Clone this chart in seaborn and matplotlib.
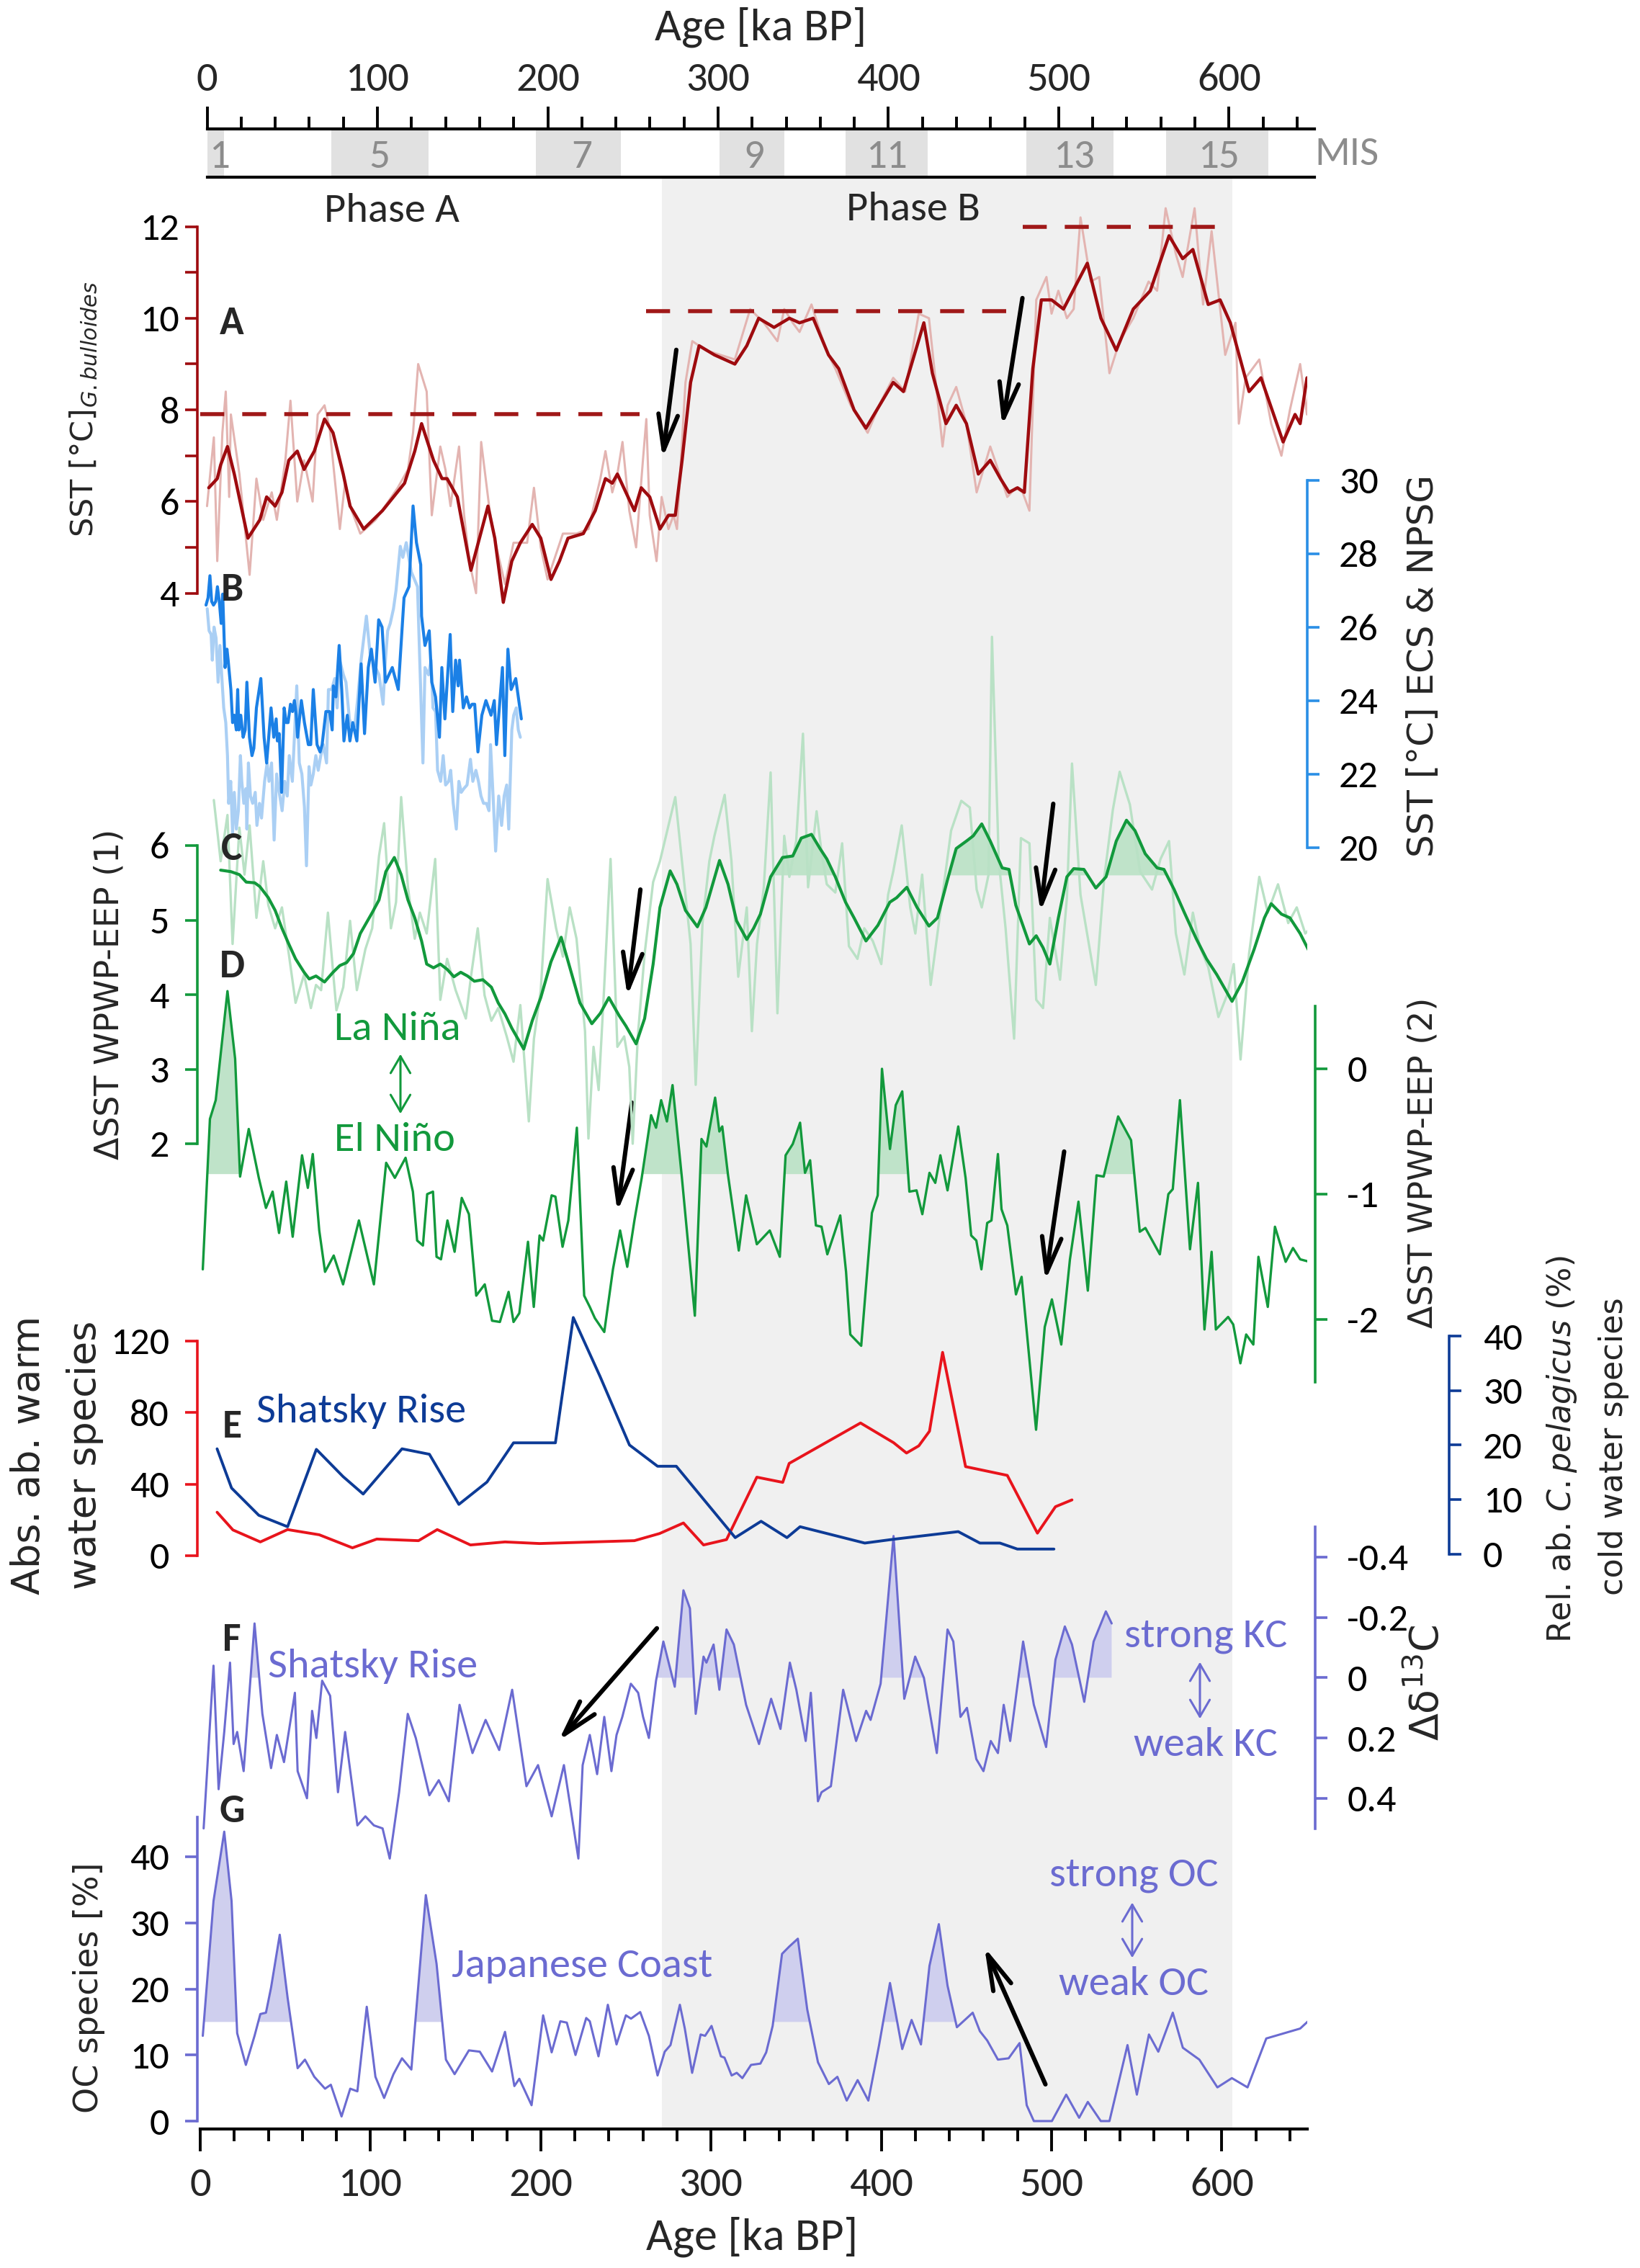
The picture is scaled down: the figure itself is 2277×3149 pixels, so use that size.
import numpy as np
import seaborn as sns
import matplotlib.pyplot as plt
from matplotlib.ticker import MultipleLocator
from matplotlib.patches import FancyArrowPatch

# ---------------- data (age in ka BP, value) ----------------
phase_b = [271, 606]
mis_stages = ['1', '5', '7', '9', '11', '13', '15']
mis_spans = [(0, 10), (73, 130), (193, 243), (301, 339), (375, 423), (481, 532), (563, 623)]
mis_label_age = [7, 101, 220, 321, 399, 509, 594]

# A: SST G. bulloides, smoothed and raw
a_smooth = [(5,6.3),(10,6.5),(12,6.8),(16,7.2),(20,6.6),(28,5.2),(35,5.6),(39,6.1),(44,5.9),(48,6.2),(52,6.9),
            (57,7.1),(61,6.7),(67,7.1),(73,7.8),(78,7.5),(84,6.6),(88,5.9),(96,5.4),(107,5.8),(120,6.4),(126,7.1),
            (130,7.7),(137,6.9),(142,6.5),(145,6.5),(151,6.1),(159,4.5),(164,5.2),(169,5.9),(173,5.2),(178,3.8),
            (183,4.7),(188,5.1),(195,5.5),(200,5.2),(206,4.3),(211,4.7),(216,5.2),(225,5.3),(232,5.8),(238,6.5),
            (242,6.4),(245,6.6),(250,6.2),(255,5.8),(259,6.3),(264,6.1),(270,5.4),(275,5.7),(279,5.7),(283,6.9),
            (288,8.6),(293,9.4),(302,9.2),(314,9.0),(321,9.4),(328,10.0),(337,9.8),(346,10.0),(352,9.9),(360,10.0),
            (369,9.2),(375,8.9),(384,8.0),(391,7.6),(399,8.1),(407,8.6),(413,8.4),(425,9.9),(430,8.8),(438,7.7),
            (444,8.1),(450,7.7),(457,6.6),(464,6.9),(470,6.5),(475,6.2),(480,6.3),(484,6.2),(489,8.9),(494,10.4),
            (500,10.4),(507,10.2),(514,10.7),(521,11.2),(529,10.0),(538,9.3),(548,10.2),(558,10.6),(569,11.8),
            (577,11.3),(583,11.5),(592,10.3),(599,10.4),(605,9.9),(616,8.4),(623,8.7),(636,7.3),(643,7.9),
            (646,7.7),(650,8.7)]
a_raw = [(4,5.9),(8,7.4),(10,4.7),(13,7.5),(15,8.4),(17,6.1),(18,7.9),(23,6.6),(29,4.4),(33,6.5),(37,5.6),
         (42,6.2),(45,5.6),(50,6.9),(53,8.2),(57,6.0),(61,6.9),(66,6.0),(69,7.9),(73,8.1),(76,7.6),(82,5.4),
         (85,6.4),(89,5.8),(94,5.3),(103,5.6),(116,6.3),(122,6.7),(125,7.5),(128,9.0),(133,8.4),(136,5.7),
         (141,7.2),(144,6.7),(147,5.9),(152,7.2),(155,5.7),(158,4.7),(162,4.0),(165,7.3),(170,5.8),(174,5.0),
         (179,4.2),(184,5.1),(188,5.1),(192,5.1),(196,6.3),(200,5.0),(204,4.3),(213,5.3),(221,5.3),(228,5.4),
         (235,6.5),(238,7.1),(242,6.2),(245,6.6),(248,7.3),(252,5.8),(256,5.0),(260,6.9),(262,7.8),(264,5.7),
         (268,4.7),(271,6.1),(275,5.4),(278,5.7),(280,5.4),(285,8.6),(289,9.5),(297,9.3),(314,9.1),(323,10.2),
         (331,9.9),(339,9.5),(343,10.2),(348,9.9),(352,9.7),(359,10.3),(365,9.6),(369,9.2),(373,8.9),(382,8.1),
         (392,7.5),(400,8.2),(407,8.7),(414,8.4),(422,10.1),(428,10.0),(436,7.2),(439,8.1),(444,8.5),(450,7.7),
         (456,6.2),(464,7.2),(474,6.1),(479,6.3),(483,6.2),(487,5.8),(491,10.4),(497,10.9),(500,10.1),(504,10.6),
         (509,10.0),(513,10.2),(517,12.2),(523,10.8),(528,10.9),(534,8.8),(540,9.5),(548,10.0),(557,10.8),
         (562,10.6),(567,12.4),(573,11.4),(577,10.9),(584,12.4),(589,10.3),(594,11.9),(602,9.2),(608,9.9),
         (610,7.7),(614,8.7),(622,9.1),(629,7.7),(635,7.0),(640,8.0),(646,9.0),(650,7.9),(652,9.2)]
a_levels = [(0, 258, 7.9), (262, 475, 10.15), (483, 597, 12.0)]

# B: SST ECS & NPSG
b_dark = [(3.4,26.6),(4.6,26.8),(5.7,27.4),(6.7,26.7),(7.8,26.6),(9.1,26.7),(10.1,27.1),(11.2,26.7),(12.3,26.1),
          (13.2,26.9),(14.6,24.9),(15.7,25.4),(16.4,25.1),(18.0,24.3),(19.0,23.4),(20.0,23.6),(21.2,23.2),(22.0,24.3),
          (22.7,23.2),(23.8,23.6),(25.2,23.0),(26.4,23.2),(27.4,24.5),(28.9,23.0),(30.4,22.5),(31.5,22.7),(33.0,23.8),
          (35.6,24.6),(37.5,23.0),(39.0,22.3),(41.6,23.8),(43.2,23.0),(44.6,23.5),(45.3,22.9),(46.4,23.1),(47.8,21.5),
          (49.3,23.8),(50.5,23.4),(51.6,23.4),(53.0,23.9),(54.2,23.7),(55.3,24.0),(56.4,23.6),(57.2,23.0),(59.4,24.0),
          (61.2,23.4),(63.5,22.8),(64.9,22.8),(66.4,24.3),(68.6,22.8),(70.4,22.6),(71.6,22.8),(73.8,23.7),(76.0,23.7),
          (77.5,23.2),(78.2,24.4),(79.7,24.1),(81.6,25.5),(83.1,24.3),(84.4,22.9),(86.4,23.6),(87.9,22.9),(89.6,23.4),
          (92.0,22.9),(94.5,25.0),(96.5,23.1),(98.7,24.9),(100.5,25.4),(102.7,24.5),(104.8,26.2),(106.8,26.0),
          (108.8,24.5),(112.8,24.9),(116.3,24.3),(119.7,26.8),(122.6,27.1),(125.0,29.3),(127.0,28.3),(129.5,27.7),
          (130.0,26.3),(132.0,25.5),(134.5,25.9),(136.0,24.5),(138.2,24.1),(140.5,23.0),(141.9,24.9),(143.7,23.5),
          (146.8,25.8),(148.3,23.7),(150.0,25.1),(151.5,24.4),(152.3,25.1),(154.5,23.8),(156.4,24.1),(158.2,23.8),
          (159.7,23.9),(161.2,23.9),(163.1,22.6),(165.4,23.6),(167.8,24.0),(170.8,23.6),(172.7,24.0),(174.0,22.8),
          (177.5,24.9),(178.9,22.5),(180.7,25.4),(182.6,24.3),(185.3,24.6),(188.6,23.5)]
b_light = [(4.1,26.5),(5.2,25.9),(6.4,25.8),(7.1,25.1),(8.1,26.0),(9.3,25.7),(10.5,24.5),(11.6,25.5),(12.6,24.7),
           (13.8,23.8),(15.0,23.4),(16.0,22.5),(16.7,21.2),(17.9,21.8),(19.0,20.4),(20.0,21.5),(21.2,20.5),(22.4,21.0),
           (23.6,22.5),(24.4,21.8),(25.6,21.2),(26.8,21.6),(27.4,20.5),(28.3,22.3),(29.5,21.4),(30.8,21.2),(32.3,21.5),
           (33.3,20.6),(34.8,21.2),(36.0,20.8),(37.8,21.8),(39.3,22.3),(40.4,21.8),(41.9,22.3),(43.4,20.2),(44.9,22.0),
           (46.4,21.5),(48.1,21.0),(49.6,21.8),(51.1,21.4),(52.3,22.5),(54.1,21.8),(56.7,24.4),(58.2,22.3),(59.7,22.0),
           (61.2,21.1),(62.4,19.5),(63.9,22.2),(65.0,21.7),(66.4,22.0),(67.9,22.5),(69.3,22.1),(70.8,22.5),(72.3,22.8),
           (74.2,22.3),(75.3,24.3),(77.2,24.3),(79.0,24.6),(80.4,23.8),(81.9,25.1),(84.1,24.7),(85.6,24.5),(87.6,23.5),
           (89.0,23.3),(90.8,23.3),(92.6,24.1),(94.5,25.1),(97.6,26.3),(99.7,25.3),(103.0,24.9),(105.0,24.7),
           (107.4,23.9),(108.6,25.0),(110.1,25.9),(111.6,26.1),(113.5,26.5),(115.0,27.0),(117.5,28.2),(119.0,27.9),
           (121.0,28.3),(124.0,27.5),(127.6,27.1),(130.8,22.3),(132.0,24.9),(134.1,24.7),(135.6,25.1),(136.7,23.8),
           (138.2,23.7),(139.4,22.1),(141.2,21.8),(142.7,22.5),(144.1,21.7),(145.9,21.8),(147.1,22.1),(148.6,21.2),
           (150.4,20.5),(151.9,21.8),(153.3,21.5),(154.8,21.6),(156.7,21.7),(158.7,22.4),(160.1,21.8),(161.9,22.1),
           (163.4,21.8),(164.9,21.4),(166.4,21.2),(168.1,21.2),(169.6,21.0),(170.5,22.8),(172.0,21.4),(173.5,19.9),
           (175.3,21.4),(177.0,20.6),(178.5,21.4),(180.0,21.7),(181.2,20.5),(183.0,23.2),(184.1,23.6),(185.6,23.8),
           (186.8,23.2),(188.0,23.0)]

# C: dSST WPWP-EEP (1), smoothed and raw
c_smooth = [(12,5.67),(18,5.65),(23,5.61),(27,5.51),(32,5.5),(35,5.45),(40,5.3),(44,5.13),(48,4.89),(52,4.68),
            (56,4.48),(61,4.3),(64,4.21),(68,4.25),(73,4.17),(78,4.3),(82,4.39),(86,4.43),(90,4.55),(94,4.82),
            (101,5.1),(105,5.27),(109,5.65),(114,5.84),(118,5.61),(122,5.27),(126,5.03),(130,4.72),(133,4.41),
            (137,4.36),(141,4.41),(145,4.34),(149,4.24),(153,4.3),(157,4.25),(161,4.18),(166,4.2),(171,4.1),
            (175,3.89),(179,3.74),(183,3.55),(190,3.27),(195,3.65),(200,3.96),(206,4.44),(212,4.77),(217,4.37),
            (223,3.89),(230,3.61),(235,3.75),(240,3.96),(246,3.72),(250,3.58),(256,3.34),(261,3.68),(266,4.41),
            (270,5.17),(276,5.66),(280,5.48),(285,5.13),(292,4.91),(297,5.17),(305,5.8),(310,5.48),(315,4.99),
            (321,4.74),(325,4.89),(329,5.08),(335,5.58),(342,5.84),(348,5.86),(353,6.1),(359,6.15),(364,5.96),
            (368,5.82),(373,5.58),(379,5.24),(384,5.03),(391,4.72),(398,4.93),(405,5.24),(409,5.3),(415,5.44),
            (421,5.17),(428,4.92),(433,5.03),(439,5.55),(444,5.96),(450,6.06),(454,6.13),(459,6.29),(464,6.06),
            (471,5.7),(475,5.68),(479,5.2),(487,4.68),(491,4.79),(495,4.63),(499,4.41),(504,5.03),(509,5.58),
            (513,5.69),(519,5.68),(526,5.43),(532,5.58),(538,6.06),(544,6.34),(549,6.2),(555,5.89),(562,5.7),
            (566,5.68),(572,5.41),(578,5.1),(585,4.75),(591,4.48),(597,4.27),(606,3.91),(612,4.17),(619,4.61),
            (625,5.03),(629,5.22),(635,5.08),(640,5.03),(646,4.82),(652,4.55)]
c_raw = [(8,6.61),(12,5.79),(16,6.41),(19,4.68),(23,6.24),(26,5.61),(29,6.27),(33,5.03),(37,5.79),(40,5.2),
         (44,4.89),(48,5.17),(52,4.55),(56,3.89),(61,4.27),(65,3.82),(68,4.13),(71,4.06),(75,5.1),(80,3.79),
         (84,4.1),(88,4.99),(92,4.06),(97,4.61),(101,4.89),(105,5.86),(108,6.3),(112,4.89),(115,5.24),(118,6.65),
         (122,5.44),(126,4.75),(129,5.1),(133,4.82),(138,5.82),(141,3.93),(145,4.48),(150,4.06),(156,3.68),
         (159,4.24),(163,4.89),(167,3.99),(171,3.65),(175,3.82),(180,3.44),(184,3.1),(188,3.86),(193,2.3),
         (196,3.41),(200,4.06),(204,5.55),(209,4.89),(213,4.51),(217,5.17),(221,4.75),(226,3.51),(228,2.07),
         (231,3.3),(234,2.72),(237,3.99),(241,5.82),(245,3.3),(249,3.44),(252,3.03),(254,2.0),(257,3.44),
         (261,4.55),(266,5.51),(270,5.79),(275,6.27),(279,6.65),(284,5.55),(288,4.68),(291,2.79),(295,4.96),
         (299,5.79),(302,6.13),(308,6.68),(312,5.79),(316,4.24),(321,5.17),(324,3.51),(327,4.68),(331,5.44),
         (335,6.98),(339,3.75),(343,6.13),(346,5.58),(350,6.06),(354,7.5),(357,5.44),(362,6.46),(365,5.89),
         (368,5.48),(373,5.37),(377,6.03),(381,4.65),(386,4.48),(390,4.89),(395,4.72),(400,4.41),(404,5.34),
         (407,5.65),(412,6.27),(417,5.17),(420,4.82),(424,5.61),(429,4.13),(435,5.17),(441,6.2),(447,6.6),
         (452,6.51),(456,5.41),(459,5.17),(463,5.61),(465,8.8),(469,5.79),(473,4.89),(478,3.41),(482,6.1),
         (487,6.03),(491,3.93),(495,3.82),(499,5.03),(505,4.2),(509,5.3),(512,7.1),(517,5.34),(526,4.13),
         (531,5.58),(536,6.48),(540,6.99),(546,6.55),(552,5.65),(559,5.41),(564,5.82),(569,6.06),(573,4.82),
         (578,4.27),(583,5.1),(587,4.65),(592,4.37),(598,3.7),(603,3.99),(607,4.41),(611,3.13),(616,4.55),
         (622,5.58),(627,5.1),(633,5.48),(639,4.96),(644,5.17),(649,4.82),(652,4.89)]
c_level = 5.6
c_events = [(335, 374), (439, 480), (504, 573)]

# D: dSST WPWP-EEP (2)
d_dsst = [(1.5,-1.6),(5.7,-0.4),(9.1,-0.25),(16,0.62),(20.5,0.08),(23.4,-0.86),(28.5,-0.48),(34.4,-0.87),
          (38.6,-1.11),(42.5,-0.98),(46.3,-1.31),(50.5,-0.9),(54.3,-1.34),(59.8,-0.69),(63.2,-0.95),(66.1,-0.68),
          (69.9,-1.29),(73.3,-1.62),(78.4,-1.49),(83.9,-1.72),(93.2,-1.21),(102,-1.72),(109.2,-0.75),(114.3,-0.87),
          (120.6,-0.71),(124.9,-0.98),(127.4,-1.37),(130.8,-1.41),(133.3,-1.0),(136.7,-0.98),(138.8,-1.5),
          (141.4,-1.52),(145.2,-1.21),(149.4,-1.46),(153.6,-1.03),(157.8,-1.16),(162.1,-1.81),(167.1,-1.72),
          (171.4,-2.01),(176,-2.02),(181.1,-1.78),(184,-2.02),(187.4,-1.95),(192.5,-1.38),(195.9,-1.9),
          (199.3,-1.33),(201.4,-1.37),(206.4,-1.01),(208.6,-1.02),(212.8,-1.42),(216.2,-1.21),(221.2,-0.47),
          (225.5,-1.81),(228.8,-1.9),(231.8,-1.99),(237.3,-2.1),(242.4,-1.6),(246.6,-1.29),(250.8,-1.58),
          (255,-1.21),(259.3,-0.87),(264.8,-0.37),(267.7,-0.47),(270.7,-0.25),(274.1,-0.42),(277.4,-0.13),
          (282.9,-0.87),(290.5,-1.97),(294.4,-0.56),(297.3,-0.62),(302.4,-0.23),(304.9,-0.5),(306.6,-0.46),
          (310,-0.85),(316.3,-1.45),(320.6,-1.01),(326.9,-1.4),(334.5,-1.29),(340.4,-1.5),(343.8,-0.69),
          (348,-0.6),(352.3,-0.43),(355.2,-0.83),(358.2,-0.73),(361.6,-1.25),(364.9,-1.26),(368.3,-1.48),
          (372.5,-1.31),(375.9,-1.17),(379.3,-1.62),(381.8,-2.12),(388.2,-2.21),(394.5,-1.15),(397.9,-1.01),
          (400.4,0.0),(405.1,-0.64),(408.5,-0.29),(412.3,-0.18),(416.5,-0.98),(420.7,-0.97),(424.1,-1.16),
          (428.3,-0.83),(431.7,-0.91),(434.7,-0.69),(438.9,-0.97),(445.2,-0.46),(449.5,-0.87),(452.8,-1.33),
          (455.8,-1.37),(458.8,-1.6),(462.2,-1.23),(464.7,-1.21),(468.5,-0.68),(470.6,-1.12),(474,-1.25),
          (479.1,-1.8),(482.4,-1.66),(490.9,-2.88),(496,-2.06),(500.2,-1.84),(505.7,-2.2),(510.8,-1.52),
          (515.8,-1.06),(521.3,-1.77),(526.4,-0.85),(530.6,-0.86),(539.1,-0.38),(546.7,-0.57),(551.8,-1.3),
          (555.1,-1.27),(563.6,-1.48),(568.6,-1.0),(571.2,-0.96),(575.4,-0.25),(581.3,-1.44),(586,-0.91),
          (589.8,-2.08),(594,-1.46),(596.5,-2.08),(603.7,-1.98),(606.7,-2.04),(610.9,-2.35),(614.3,-2.12),
          (618.5,-2.2),(621.5,-1.5),(627,-1.9),(631.2,-1.26),(634.6,-1.41),(637.5,-1.54),(641.8,-1.43),
          (646,-1.52),(651.5,-1.54)]
d_level = -0.84
d_events = [(0, 25), (255, 311), (340, 362), (397, 417), (526, 552)]

# E: Shatsky Rise, warm-water abundance (left) and C. pelagicus (right)
e_warm = [(9.9,24.3),(19.2,14.4),(35.3,7.7),(51.3,14.6),(69.9,11.7),(89.4,4.4),(103.7,9.3),(128.2,8.4),
          (139.2,14.6),(158.7,6.0),(179,7.7),(199.3,6.8),(255,8.4),(269.8,12.4),(283.8,18.3),(295.6,6.0),
          (309.1,9.0),(326.9,43.9),(342.1,41.0),(345.9,51.6),(387.8,74.2),(407.2,63.2),(414.8,57.4),(422,61.4),
          (428.3,69.6),(436,113.7),(449.5,49.8),(474,44.9),(491.7,12.6),(502.3,27.4),(512,31.2)]
e_cold = [(9.9,19.3),(18.4,12.1),(34.4,7.1),(51.3,5.0),(68.2,19.2),(83.9,14.2),(95.7,11.0),(118.5,19.3),
          (134.6,18.3),(151.9,9.1),(168.4,13.2),(184,20.4),(208.6,20.4),(219.1,43.4),(234.8,32.6),(252.1,20.0),
          (268.6,16.1),(279.6,16.1),(314.2,3.0),(329.4,6.0),(344.6,3.0),(352.3,5.0),(390.3,2.0),(407.2,2.7),
          (445.2,4.1),(457.9,2.0),(469.7,2.0),(479.9,0.9),(501.4,0.9)]

# F: Shatsky Rise d13C gradient
f_d13c = [(2,0.5),(7.8,-0.04),(10.8,0.37),(14.1,0.18),(17.5,-0.05),(19.6,0.22),(21.7,0.18),(25.5,0.31),
          (31.9,-0.18),(36.5,0.12),(41.6,0.3),(45,0.19),(49.2,0.28),(55.6,0.05),(57.2,0.31),(62.7,0.4),(65.7,0.11),
          (68.2,0.2),(71.6,0.01),(76.3,0.06),(80.9,0.38),(85.1,0.18),(92.3,0.49),(97,0.46),(102,0.49),(107.1,0.5),
          (111.3,0.6),(116.8,0.38),(121.9,0.12),(126.6,0.2),(134.6,0.39),(140.1,0.34),(146,0.41),(152.3,0.09),
          (159.9,0.25),(167.6,0.14),(175.6,0.24),(183.2,0.04),(191.6,0.36),(198.4,0.29),(206.4,0.46),(213.6,0.29),
          (222.1,0.6),(224.6,0.29),(228.8,0.19),(233.1,0.32),(237.3,0.13),(241.5,0.31),(244.5,0.19),(247.9,0.13),
          (252.9,0.02),(257.2,0.05),(260.1,0.13),(263.5,0.2),(267.7,0.01),(272,-0.12),(278.7,0.03),(283.8,-0.29),
          (287.6,-0.23),(291,0.12),(295.6,-0.07),(297.3,-0.05),(301.5,-0.11),(304.9,0.04),(309.1,-0.16),
          (313.4,-0.11),(320.6,0.09),(328.2,0.22),(335.3,0.07),(340.8,0.17),(346.3,-0.05),(350.1,0.04),
          (355.6,0.21),(358.6,0.05),(362.8,0.41),(364.9,0.38),(370.4,0.36),(377.6,0.04),(385.2,0.21),(391.1,0.11),
          (393.7,0.14),(399.6,0.02),(407.2,-0.47),(413.5,0.07),(419.9,-0.07),(425,0.0),(432.6,0.25),(438.9,-0.16),
          (442.3,-0.12),(446.5,0.13),(450.3,0.1),(455.8,0.27),(460,0.31),(464.3,0.21),(468.5,0.25),(471.9,0.09),
          (475.7,0.21),(483.3,-0.12),(489.6,0.09),(496.8,0.23),(502.3,-0.06),(507.8,-0.17),(512,-0.11),
          (519.2,0.08),(524.7,-0.12),(531.9,-0.22),(535.3,-0.18)]
f_level = 0.0
f_events = [(28, 37), (266, 318), (341, 351), (398, 427), (478, 536)]

# G: OC species, Japanese coast
g_oc = [(1.5,12.9),(7.8,33.3),(14.1,43.8),(18.4,33.3),(21.7,13.3),(26.8,8.5),(31.9,12.9),(35.3,16.2),(38.6,16.4),
        (41.6,20.2),(46.7,28.2),(51.3,18.7),(57.2,8.0),(61.5,9.3),(67,6.7),(73.3,4.9),(76.7,5.5),(83,0.7),
        (88.1,4.9),(92.3,4.5),(97.8,17.3),(102.9,6.7),(108,3.5),(113.5,7.1),(118.5,9.5),(124,7.8),(132.5,34.2),
        (138.8,23.8),(144.3,9.3),(149.4,7.1),(157.8,10.7),(164.2,10.5),(171.4,7.5),(179,13.5),(184.5,5.3),
        (187.4,6.4),(194.6,2.4),(201.4,16.0),(206.4,10.4),(211.5,15.1),(215.3,14.9),(220.4,10.0),(226.7,15.6),
        (228.8,15.1),(233.9,9.8),(239.4,17.6),(244.5,11.6),(250,16.0),(253,15.5),(258.4,16.5),(263.5,12.9),
        (268.6,6.9),(272.8,10.5),(276.2,11.5),(281.7,17.6),(284.6,14.0),(288.9,7.3),(293.9,13.1),(296.5,12.9),
        (300.3,14.4),(305.8,9.8),(307.9,9.6),(312.1,6.9),(315.1,7.3),(318.4,6.5),(323.5,8.5),(329,8.7),
        (332.4,10.4),(336.2,14.4),(341.7,25.3),(345.9,26.4),(351,27.6),(356.5,16.9),(362.8,8.9),(369.2,5.6),
        (374.2,6.7),(379.7,3.1),(386.1,6.2),(392.4,3.1),(398.7,11.5),(405.1,20.9),(412.3,10.9),(417.8,15.3),
        (423.3,11.6),(428.3,23.5),(433.8,29.8),(438.9,20.5),(444.4,14.2),(453.7,16.4),(457.9,13.6),(462.2,12.2),
        (468.5,9.3),(474.8,9.5),(481.2,11.8),(485.4,2.4),(489.6,0.0),(500.2,0.0),(508.6,4.0),(516.2,0.5),
        (521.3,2.9),(528.9,0.0),(534,0.0),(544.6,11.5),(550.1,4.0),(557.2,13.1),(562.7,10.5),(571.2,16.4),
        (577.1,11.1),(586.8,9.3),(597.4,5.1),(605.9,6.5),(615.1,5.1),(626.1,12.5),(646,14.0),(652.3,15.5)]
g_level = 15
g_events = [(0, 23), (33, 53), (125, 145), (334, 358), (400, 411), (426, 445)]

# black arrows (tail, head) in each panel's units
arrows_a = [((279.6, 9.31), (271.6, 6.95)), ((482.9, 10.44), (471.1, 7.65))]
arrows_c = [((258.5, 5.41), (250.9, 3.98)), ((501.0, 6.56), (493.5, 5.11))]
arrows_d = [((253.5, -0.27), (245.0, -1.14)), ((507.4, -0.66), (496.4, -1.69))]
arrows_f = [((268.2, -0.164), (210.5, 0.209))]
arrows_g = [((496.4, 5.56), (460.6, 26.3))]

# ---------------- colours ----------------
DARKRED, PINK = '#9e0b0f', '#e3b4b1'
BLUE, LIGHTBLUE = '#1b80e6', '#aacff4'
GREEN, LIGHTGREEN, GREENFILL = '#12993c', '#b9e1c5', '#bfe3c9'
RED, NAVY = '#e8141c', '#0d3b96'
PERI, PERIFILL = '#6b6bd1', '#cfcfee'

sns.set_style('ticks')
plt.rcParams['font.family'] = ['Carlito', 'Lato', 'DejaVu Sans']
plt.rcParams['mathtext.fontset'] = 'dejavusans'

W, H = 1138.5, 1574.5          # layout grid (half-size pixels)
def fx(px): return px / W
def fy(py): return 1 - py / H

X0, X1 = 139, 907.3            # age 0 and 650 ka
Y_TOP, Y_BOT = 123, 1478
RECT = [fx(X0), fy(Y_BOT), fx(X1) - fx(X0), fy(Y_TOP) - fy(Y_BOT)]

fig = plt.figure(figsize=(11.385, 15.745), dpi=200)


def split(pairs):
    x, y = zip(*pairs)
    return np.array(x, float), np.array(y, float)


def new_axes(name):
    ax = fig.add_axes(RECT, label=name)
    ax.patch.set_visible(False)
    for sp in ax.spines.values():
        sp.set_visible(False)
    ax.tick_params(left=False, labelleft=False, right=False, labelright=False,
                   bottom=False, labelbottom=False, top=False, labeltop=False)
    return ax


def set_band(ax, p_hi, v_hi, p_lo, v_lo):
    s = (v_lo - v_hi) / (p_lo - p_hi)
    ax.set_xlim(0, 650)
    ax.set_ylim(v_hi + (Y_BOT - p_hi) * s, v_hi + (Y_TOP - p_hi) * s)


def yaxis(ax, side, color, bounds, ticks, labels=None, minor=None, offset=1.5, pad=8):
    sp = ax.spines[side]
    sp.set_visible(True)
    sp.set_color(color)
    sp.set_linewidth(1.3)
    sp.set_bounds(*bounds)
    sp.set_position(('outward', offset))
    ax.set_yticks(ticks)
    ax.set_yticklabels(labels if labels is not None else [f'{t:g}' for t in ticks])
    if minor is not None:
        ax.set_yticks(minor, minor=True)
    ax.tick_params(axis='y', which='both', colors=color, labelcolor='black', length=6, width=1.3,
                   labelsize=19.5, pad=pad, direction='out',
                   **{side: True, 'label' + side: True})


def line(ax, pairs, color, lw):
    x, y = split(pairs)
    sns.lineplot(x=x, y=y, ax=ax, color=color, linewidth=lw, estimator=None, sort=False, legend=False)


def fill_events(ax, pairs, level, events, color, above=True):
    x, y = split(pairs)
    inside = np.zeros(len(x), bool)
    for lo, hi in events:
        inside |= (x >= lo) & (x <= hi)
    cond = (y > level) if above else (y < level)
    ax.fill_between(x, y, level, where=inside & cond, interpolate=True, color=color, lw=0, zorder=1)


def arrows(ax, items):
    for tail, head in items:
        ax.annotate('', xy=head, xytext=tail, annotation_clip=False,
                    arrowprops=dict(arrowstyle='->,head_length=0.8,head_width=0.22', lw=2.2,
                                    color='black', shrinkA=0, shrinkB=0, mutation_scale=22))


# ---------- background: phase B shading + bottom age axis ----------
ax_bg = fig.add_axes(RECT, label='bg')
ax_bg.set_xlim(0, 650)
ax_bg.set_ylim(0, 1)
ax_bg.axvspan(phase_b[0], phase_b[1], color='#f0f0f0', lw=0)
for s in ['left', 'right', 'top']:
    ax_bg.spines[s].set_visible(False)
ax_bg.spines['bottom'].set_linewidth(1.5)
ax_bg.spines['bottom'].set_color('black')
ax_bg.set_yticks([])
ax_bg.xaxis.set_major_locator(MultipleLocator(100))
ax_bg.xaxis.set_minor_locator(MultipleLocator(20))
ax_bg.tick_params(axis='x', which='major', length=11, width=1.4, labelsize=21, pad=8, direction='out',
                  color='black')
ax_bg.tick_params(axis='x', which='minor', length=6, width=1.4, direction='out', color='black')
ax_bg.set_xticks(range(0, 601, 100))
fig.text(fx(522), fy(1553), 'Age [ka BP]', ha='center', va='center', size=23)

# ---------- G ----------
ax_g = new_axes('G')
fill_events(ax_g, g_oc, g_level, g_events, PERIFILL)
line(ax_g, g_oc, PERI, 1.1)
arrows(ax_g, arrows_g)
set_band(ax_g, 1289, 40, 1472.5, 0)
yaxis(ax_g, 'left', PERI, (0, 46), [0, 10, 20, 30, 40])

# ---------- F ----------
ax_f = new_axes('F')
fill_events(ax_f, f_d13c, f_level, f_events, PERIFILL, above=False)
line(ax_f, f_d13c, PERI, 1.1)
arrows(ax_f, arrows_f)
set_band(ax_f, 1081, -0.4, 1248.4, 0.4)
yaxis(ax_f, 'right', PERI, (-0.5, 0.5), [-0.4, -0.2, 0, 0.2, 0.4],
      labels=['-0.4', '-0.2', '0', '0.2', '0.4'], offset=4, pad=10)

# ---------- E ----------
ax_e = new_axes('E')
line(ax_e, e_warm, RED, 1.4)
set_band(ax_e, 931, 120, 1080, 0)
yaxis(ax_e, 'left', RED, (0, 120), [0, 40, 80, 120])

ax_e2 = new_axes('E2')
line(ax_e2, e_cold, NAVY, 1.4)
set_band(ax_e2, 927.5, 40, 1078.8, 0)
yaxis(ax_e2, 'right', NAVY, (0, 40), [0, 10, 20, 30, 40], offset=71, pad=11)

# ---------- D ----------
ax_d = new_axes('D')
fill_events(ax_d, d_dsst, d_level, d_events, GREENFILL)
line(ax_d, d_dsst, GREEN, 1.2)
arrows(ax_d, arrows_d)
set_band(ax_d, 742, 0, 916, -2)
yaxis(ax_d, 'right', GREEN, (-2.5, 0.5), [-2, -1, 0], offset=4, pad=10)

# ---------- C ----------
ax_c = new_axes('C')
line(ax_c, c_raw, LIGHTGREEN, 1.2)
fill_events(ax_c, c_smooth, c_level, c_events, GREENFILL)
line(ax_c, c_smooth, GREEN, 1.5)
arrows(ax_c, arrows_c)
set_band(ax_c, 587, 6, 794, 2)
yaxis(ax_c, 'left', GREEN, (2, 6), [2, 3, 4, 5, 6])

# ---------- B ----------
ax_b = new_axes('B')
line(ax_b, b_light, LIGHTBLUE, 1.5)
line(ax_b, b_dark, BLUE, 1.5)
set_band(ax_b, 333.4, 30, 588.3, 20)
yaxis(ax_b, 'right', '#2a8fe6', (20, 30), [20, 22, 24, 26, 28, 30], offset=0, pad=10)

# ---------- A ----------
ax_a = new_axes('A')
line(ax_a, a_raw, PINK, 1.1)
line(ax_a, a_smooth, DARKRED, 1.6)
for x0, x1, lev in a_levels:
    ax_a.hlines(lev, x0, x1, color='#a01818', lw=2.0, linestyles=(0, (6, 4.5)))
arrows(ax_a, arrows_a)
set_band(ax_a, 157.3, 12, 411.8, 4)
yaxis(ax_a, 'left', DARKRED, (4, 12), [4, 6, 8, 10, 12], minor=[5, 7, 9, 11], pad=3)

# ---------- top age axis with MIS bar ----------
ax_top = fig.add_axes([fx(143.8), fy(123), 650 * 1.1823 / W, (123 - 89.5) / H], label='top')
ax_top.set_xlim(0, 650)
ax_top.set_ylim(0, 1)
for a0, a1 in mis_spans:
    ax_top.axvspan(a0, a1, color='#e1e1e1', lw=0)
for lab, age in zip(mis_stages, mis_label_age):
    ax_top.text(age, 0.42, lab, ha='center', va='center', size=20.5, color='#8c8c8c')
ax_top.text(669, 0.48, 'MIS', ha='center', va='center', size=20.5, color='#8c8c8c', clip_on=False)
ax_top.spines['left'].set_visible(False)
ax_top.spines['right'].set_visible(False)
ax_top.spines['top'].set_linewidth(1.5)
ax_top.spines['bottom'].set_linewidth(1.5)
ax_top.spines['top'].set_color('black')
ax_top.spines['bottom'].set_color('black')
ax_top.set_yticks([])
ax_top.xaxis.set_ticks_position('top')
ax_top.xaxis.set_major_locator(MultipleLocator(100))
ax_top.xaxis.set_minor_locator(MultipleLocator(20))
ax_top.set_xticks(range(0, 601, 100))
ax_top.tick_params(axis='x', which='major', length=11, width=1.4, labelsize=21, pad=5, direction='out',
                   color='black', top=True, labeltop=True, bottom=False, labelbottom=False)
ax_top.tick_params(axis='x', which='minor', length=6, width=1.4, direction='out', color='black',
                   top=True, bottom=False)
fig.text(fx(528), fy(18.7), 'Age [ka BP]', ha='center', va='center', size=23)

# ---------- texts ----------
def txt(px, py, s, **kw):
    kw.setdefault('ha', 'center')
    kw.setdefault('va', 'center')
    fig.text(fx(px), fy(py), s, **kw)

txt(272, 146, 'Phase A', size=21)
txt(634, 145, 'Phase B', size=21)
for lab, py in [('A', 224), ('B', 409), ('C', 589), ('D', 671), ('E', 990), ('F', 1138), ('G', 1257)]:
    txt(161, py, lab, size=20, weight='bold')

txt(276, 714, 'La Niña', size=21, color=GREEN)
txt(274, 791, 'El Niño', size=21, color=GREEN)
txt(251, 980, 'Shatsky Rise', size=21, color=NAVY)
txt(259, 1157, 'Shatsky Rise', size=21, color=PERI)
txt(837, 1136, 'strong KC', size=21, color=PERI)
txt(837, 1211, 'weak KC', size=21, color=PERI)
txt(404, 1365, 'Japanese Coast', size=21, color=PERI)
txt(787, 1302, 'strong OC', size=21, color=PERI)
txt(787, 1377, 'weak OC', size=21, color=PERI)

for (px, p0, p1, col) in [(278, 729, 776, GREEN), (833, 1151, 1196, PERI), (786, 1318, 1362, PERI)]:
    fig.add_artist(FancyArrowPatch((fx(px), fy(p0)), (fx(px), fy(p1)), transform=fig.transFigure,
                                   arrowstyle='<->,head_length=0.6,head_width=0.35', mutation_scale=14,
                                   lw=1.1, color=col))

# axis titles
lab = dict(rotation=90, family='DejaVu Sans')
txt(58, 284, 'SST [°C]$_{G.bulloides}$', size=15.5, **lab)
txt(988, 462, 'SST [°C] ECS & NPSG', size=18, **lab)
txt(76, 690, 'ΔSST WPWP-EEP (1)', size=16.5, **lab)
txt(988, 807, 'ΔSST WPWP-EEP (2)', size=16.5, **lab)
txt(20, 1010, 'Abs. ab. warm', size=19.5, **lab)
txt(59, 1010, 'water species', size=19.5, **lab)
txt(1084, 1006, 'Rel. ab. $\\mathit{C.pelagicus}$ (%)', size=16, **lab)
txt(1120, 1004, 'cold water species', size=16, **lab)
txt(991, 1168, 'Δδ$^{13}$C', size=20, **lab)
txt(62, 1380, 'OC species [%]', size=16.5, **lab)

fig.savefig('out.png', dpi=200)
